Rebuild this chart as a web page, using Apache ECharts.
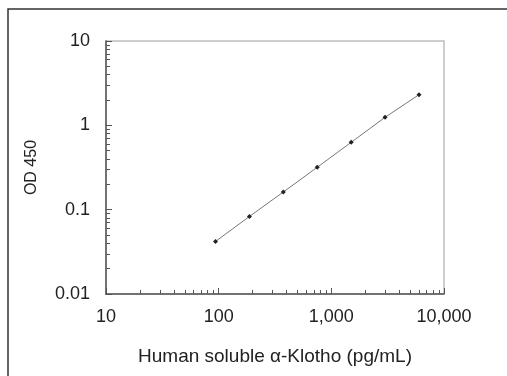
<!DOCTYPE html>
<html>
<head>
<meta charset="utf-8">
<script src="https://cdn.jsdelivr.net/npm/echarts@6/dist/echarts.min.js"></script>
<style>
  html, body { margin: 0; padding: 0; background: #fff; }
  #chart { width: 507px; height: 376px; }
</style>
</head>
<body>
<div id="chart"></div>
<script>
// standard curve
const concentration = [93.75, 187.5, 375, 750, 1500, 3000, 6000];
const od450 = [0.042, 0.083, 0.162, 0.318, 0.629, 1.245, 2.31];

const xMajor = [10, 100, 1000, 10000];
const yMajor = [0.01, 0.1, 1, 10];

// ticks at 2..9 of each decade
function minorTicks(decades) {
  const out = [];
  decades.slice(0, -1).forEach((d) => {
    for (let k = 1; k <= 9; k++) out.push(+(d * k).toPrecision(6));
  });
  out.push(decades[decades.length - 1]);
  return out;
}

const xMinor = minorTicks(xMajor);
const yMinor = minorTicks(yMajor);

const fontFamily = 'Liberation Sans, Arial, sans-serif';
const textColor = '#222';

function fmt(v) {
  return (+Number(v).toPrecision(6)).toLocaleString('en-US', { maximumFractionDigits: 6 });
}

function logAxis(min, max, extra) {
  return Object.assign({
    type: 'log',
    logBase: 10,
    min,
    max,
    gridIndex: 0,
    splitLine: { show: false },
  }, extra);
}

const chart = echarts.init(document.getElementById('chart'), null, { renderer: 'canvas' });

chart.setOption({
  animation: false,
  grid: {
    left: 106,
    top: 41,
    right: 63,
    bottom: 82,
    show: true,
    borderColor: '#bdbdbd',
    borderWidth: 1.5,
  },
  graphic: [
    {
      type: 'rect',
      shape: { x: 8, y: 9, width: 700, height: 600 },
      style: { fill: 'none', stroke: '#333', lineWidth: 1.5 },
      z: 10,
    },
  ],
  xAxis: [
    logAxis(10, 10000, {
      position: 'bottom',
      name: 'Human soluble α-Klotho (pg/mL)',
      nameLocation: 'middle',
      nameGap: 53,
      nameTextStyle: { color: textColor, fontSize: 19, fontFamily },
      axisLine: { show: true, lineStyle: { color: '#555', width: 1.5 } },
      axisTick: { show: true, inside: true, length: 4, customValues: xMinor, lineStyle: { color: '#555' } },
      axisLabel: {
        customValues: xMajor,
        margin: 14,
        color: textColor,
        fontSize: 18,
        fontFamily,
        formatter: fmt,
      },
    }),
    logAxis(10, 10000, {
      position: 'bottom',
      axisLine: { show: false },
      axisTick: { show: true, inside: true, length: 6, customValues: xMajor, lineStyle: { color: '#555' } },
      axisLabel: { show: false },
    }),
  ],
  yAxis: [
    logAxis(0.01, 10, {
      position: 'left',
      name: 'OD 450',
      nameLocation: 'middle',
      nameGap: 66,
      nameRotate: 90,
      nameTextStyle: { color: textColor, fontSize: 16, fontFamily },
      axisLine: { show: true, lineStyle: { color: '#555', width: 1.5 } },
      axisTick: { show: true, inside: true, length: 4, customValues: yMinor, lineStyle: { color: '#555' } },
      axisLabel: {
        customValues: yMajor,
        margin: 16,
        color: textColor,
        fontSize: 18,
        fontFamily,
        formatter: fmt,
      },
    }),
    logAxis(0.01, 10, {
      position: 'left',
      axisLine: { show: false },
      axisTick: { show: true, inside: true, length: 6, customValues: yMajor, lineStyle: { color: '#555' } },
      axisLabel: { show: false },
    }),
  ],
  series: [
    {
      type: 'line',
      xAxisIndex: 0,
      yAxisIndex: 0,
      data: concentration.map((c, i) => [c, od450[i]]),
      symbol: 'diamond',
      symbolSize: 5,
      itemStyle: { color: '#222' },
      lineStyle: { color: '#777', width: 1 },
    },
  ],
});
</script>
</body>
</html>
